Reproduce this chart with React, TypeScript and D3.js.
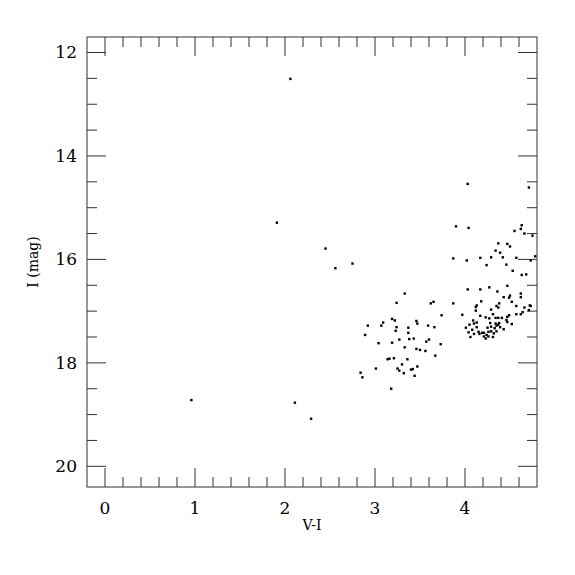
import React from "react";
import * as d3 from "d3";

// colour V-I and magnitude I of each star
const colorVI = [
  2.06, 1.91, 2.45, 2.75, 2.56, 0.96, 2.11, 2.29,
  3.33, 3.24, 3.62, 3.65, 3.19, 3.22, 3.09, 3.07, 2.92, 3.24, 3.46, 3.47, 3.59, 3.66, 3.37, 3.23,
  3.37, 2.89, 3.27, 3.38, 3.43, 3.6, 3.57, 3.04, 3.19, 3.33, 3.46, 3.5, 3.56, 3.67, 3.14, 3.16,
  3.21, 3.36, 3.3, 3.47, 3.01, 3.25, 3.27, 3.4, 3.42, 3.32, 2.84, 2.86, 3.44, 3.18,
  4.03, 4.71, 3.9, 4.04, 4.63, 4.62, 4.55, 4.66, 4.75, 4.37, 4.47, 4.5, 4.34, 4.39, 3.87, 4.02,
  4.17, 4.29, 4.42, 4.57, 4.73, 4.78, 4.24, 4.46, 4.53, 4.63, 4.68, 4.03, 4.17, 4.27, 4.47, 4.36,
  4.62, 4.62, 4.43, 4.5, 4.49, 3.87, 4.18, 4.38, 4.35, 4.57, 4.13, 4.12, 4.52, 4.66, 4.72, 4.73,
  4.37, 4.12, 4.29, 3.74, 3.97, 4.17, 4.23, 4.31, 4.27, 4.34, 4.37, 4.41, 4.47, 4.49, 4.57, 4.62,
  4.64, 4.71, 4.09, 4.13, 4.1, 4.28, 4.34, 4.38, 4.46, 4.47, 4.52, 4.43, 4.05, 4.01, 4.13, 4.25,
  4.29, 4.35, 4.37, 4.33, 4.39, 4.08, 4.15, 4.19, 4.21, 4.26, 4.29, 4.35, 4.24, 4.04, 4.1, 4.16,
  4.32, 4.06, 4.21, 4.26, 4.23, 4.31, 3.73,
];
const magI = [
  12.51, 15.29, 15.79, 16.08, 16.17, 18.72, 18.77, 19.08,
  16.66, 16.84, 16.85, 16.82, 17.15, 17.18, 17.22, 17.28, 17.28, 17.31, 17.19, 17.24, 17.28, 17.31, 17.32, 17.38,
  17.42, 17.46, 17.55, 17.54, 17.53, 17.55, 17.59, 17.62, 17.61, 17.7, 17.73, 17.75, 17.77, 17.86, 17.93, 17.92,
  17.91, 17.93, 18.03, 18.07, 18.11, 18.11, 18.15, 18.13, 18.12, 18.2, 18.19, 18.28, 18.25, 18.5,
  14.54, 14.61, 15.36, 15.39, 15.34, 15.41, 15.45, 15.5, 15.54, 15.69, 15.7, 15.75, 15.83, 15.87, 15.98, 16.02,
  15.97, 15.96, 15.96, 15.97, 16.02, 15.94, 16.11, 16.1, 16.22, 16.3, 16.29, 16.58, 16.58, 16.54, 16.51, 16.62,
  16.66, 16.73, 16.73, 16.7, 16.74, 16.85, 16.81, 16.85, 16.9, 16.9, 16.89, 16.92, 16.82, 16.93, 16.89, 16.9,
  16.93, 16.99, 16.97, 17.08, 17.07, 17.09, 17.12, 17.06, 17.14, 17.13, 17.13, 17.13, 17.11, 17.08, 17.06, 17.06,
  17.02, 16.98, 17.18, 17.22, 17.24, 17.23, 17.24, 17.23, 17.17, 17.21, 17.25, 17.35, 17.26, 17.32, 17.31, 17.32,
  17.3, 17.28, 17.26, 17.33, 17.31, 17.36, 17.4, 17.42, 17.42, 17.4, 17.39, 17.39, 17.46, 17.41, 17.44, 17.44,
  17.43, 17.5, 17.49, 17.49, 17.53, 17.5, 17.64,
];

const xMajor = [0, 1, 2, 3, 4];
const yMajor = [12, 14, 16, 18, 20];

const W = 575, H = 575;
const margin = { top: 37, right: 38, bottom: 88, left: 87 };
const font = "'DejaVu Serif', serif";

export default function App() {
  const x = d3.scaleLinear().domain([-0.2, 4.8]).range([margin.left, W - margin.right]);
  const y = d3.scaleLinear().domain([11.7, 20.4]).range([margin.top, H - margin.bottom]);
  const [x0, x1] = x.range();
  const [y0, y1] = y.range();

  const xMinor = d3.range(0, 25).map(i => -0.2 + i * 0.2).filter(v => v > -0.15 && v < 4.79);
  const yMinor = d3.range(12, 20.01, 0.5);
  const isXMaj = (v: number) => Math.abs(v - Math.round(v)) < 1e-6;
  const isYMaj = (v: number) => Math.abs(v / 2 - Math.round(v / 2)) < 1e-6;
  const stroke = "#333";

  return (
    <svg width={W} height={H} style={{ position: "absolute", left: 0, top: 0 }}>
      <rect x={0} y={0} width={W} height={H} fill="#fff" />
      {/* x ticks, bottom and top */}
      {xMinor.map((v, i) => {
        const len = isXMaj(v) ? 19 : 10;
        const px = x(v);
        return (
          <g key={"xt" + i} stroke={stroke} strokeWidth={1}>
            <line x1={px} x2={px} y1={y1} y2={y1 - len} />
            <line x1={px} x2={px} y1={y0} y2={y0 + len} />
          </g>
        );
      })}
      {/* y ticks, left and right */}
      {yMinor.map((v, i) => {
        const len = isYMaj(v) ? 19 : 10;
        const py = y(v);
        return (
          <g key={"yt" + i} stroke={stroke} strokeWidth={1}>
            <line x1={x0} x2={x0 + len} y1={py} y2={py} />
            <line x1={x1} x2={x1 - len} y1={py} y2={py} />
          </g>
        );
      })}
      <rect x={x0} y={y0} width={x1 - x0} height={y1 - y0} fill="none" stroke={stroke} strokeWidth={1} />
      {xMajor.map(v => (
        <text key={"xl" + v} x={x(v)} y={y1 + 27} textAnchor="middle" fontFamily={font} fontSize={17} fill="#000">
          {v}
        </text>
      ))}
      {yMajor.map(v => (
        <text key={"yl" + v} x={x0 - 10} y={y(v)} dy="0.35em" textAnchor="end" fontFamily={font} fontSize={17} fill="#000">
          {v}
        </text>
      ))}
      <text x={(x0 + x1) / 2} y={530} textAnchor="middle" fontFamily={font} fontSize={14} fill="#000">V-I</text>
      <text transform={`translate(38,${(y0 + y1) / 2}) rotate(-90)`} textAnchor="middle" fontFamily={font} fontSize={14} fill="#000">
        I (mag)
      </text>
      {colorVI.map((c, i) => (
        <rect key={"p" + i} x={x(c) - 1.2} y={y(magI[i]) - 1.2} width={2.4} height={2.4} fill="#000" />
      ))}
    </svg>
  );
}
